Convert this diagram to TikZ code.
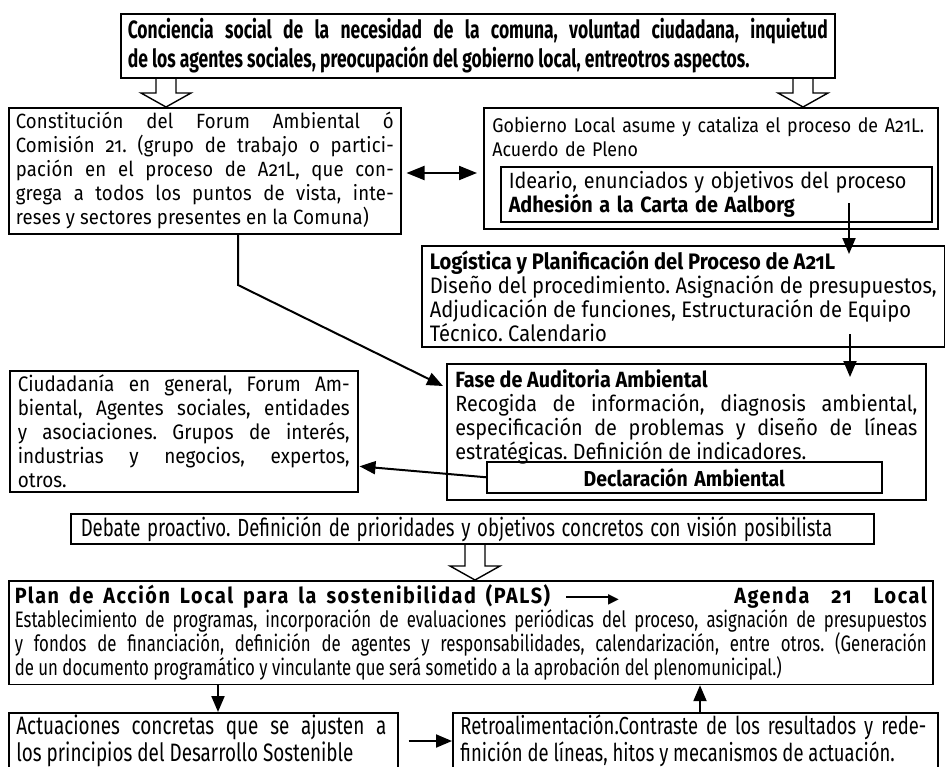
\documentclass[tikz,border=0pt]{standalone}
\usepackage{fontspec}
\setmainfont[Numbers=OldStyle,FakeStretch=0.9]{Fira Sans}
\newfontfamily\estrecha[Numbers=OldStyle,FakeStretch=0.75]{Fira Sans}
\newfontfamily\angosta[Numbers=OldStyle,FakeStretch=0.7]{Fira Sans}
\newfontfamily\simbolos{DejaVu Sans}
\usetikzlibrary{arrows.meta,calc}
\frenchspacing

\tikzset{
  caja/.style={draw, line width=0.75pt, anchor=north west, inner xsep=4pt, inner ysep=2pt, align=justify},
  marco/.style={draw, line width=0.75pt, anchor=north west, inner sep=0pt},
  texto/.style={anchor=north west, inner sep=0pt, align=justify},
  flecha/.style={line width=1pt, -{Triangle[length=8pt,width=6.5pt]}},
  doble/.style={line width=1pt, {Triangle[length=9pt,width=7pt]}-{Triangle[length=9pt,width=7pt]}},
  hueca/.style={line width=0.7pt, to path={
    ($(\tikztostart)+(-10,0)$) -- ($(\tikztotarget)+(-10,-14)$) -- ($(\tikztotarget)+(-25,-14)$)
    -- (\tikztotarget) -- ($(\tikztotarget)+(25,-14)$) -- ($(\tikztotarget)+(10,-14)$)
    -- ($(\tikztostart)+(10,0)$)}}
}
\newcommand{\letra}[2]{\fontsize{#1}{#2}\selectfont}
\newcommand{\titulo}{\rmfamily\bfseries\letra{11}{11}\addfontfeatures{LetterSpace=7}\spaceskip=5pt plus 1pt}
\newcommand{\flechita}{\rule[0.5ex]{22pt}{0.8pt}\kern-1pt\raisebox{0.05ex}{\simbolos\fontsize{7}{7}\selectfont ▶}}

\begin{document}
\begin{tikzpicture}[x=0.5pt,y=-0.5pt]
\useasboundingbox (0,0) rectangle (945,766);
\clip (0,0) rectangle (945,766);

% primera fila
\node[caja, inner xsep=3.5pt, text width=350pt, minimum height=32pt] (T) at (120,13)
  {\angosta\bfseries\letra{12.5}{12.5}Conciencia social de la necesidad de la comuna, voluntad ciudadana, inquietud\linebreak
   de los agentes sociales, preocupación del gobierno local, entreotros aspectos.};

\node[caja, inner xsep=3.5pt, text width=189pt, minimum height=63pt] (C) at (8,107)
  {\letra{10.3}{11.6}\addfontfeatures{LetterSpace=1}Constitución del Forum Ambiental ó\linebreak
   Comisión 21. (grupo de trabajo o partici-\linebreak
   pación en el proceso de A21L, que con-\linebreak
   grega a todos los puntos de vista, inte-\linebreak
   reses y sectores presentes en la Comuna)};

\node[marco, minimum width=227pt, minimum height=60.5pt] (G) at (483,107) {};
\node[texto, text width=220pt, align=left] (Gt) at (492,117)
  {\letra{9.9}{10.5}Gobierno Local asume y cataliza el proceso de A21L.\\Acuerdo de Pleno};
\node[caja, text width=207.5pt, minimum height=27.5pt, align=left] (I) at (500,166)
  {\letra{11}{11}Ideario, enunciados y objetivos del proceso\\\textbf{Adhesión a la Carta de Aalborg}};

% planificacion y auditoria
\node[caja, text width=253.5pt, minimum height=50.5pt] (L) at (421,245)
  {\letra{11.2}{11}\textbf{Logística y Planificación del Proceso de A21L}\\
   Diseño del procedimiento. Asignación de presupuestos,\linebreak
   Adjudicación de funciones, Estructuración de Equipo\\
   Técnico. Calendario};

\node[marco, minimum width=239.5pt, minimum height=68pt] (F) at (446,363) {};
\node[texto, text width=231pt] (Ft) at (455,369)
  {\letra{11}{11}\textbf{Fase de Auditoria Ambiental}\\
   Recogida de información, diagnosis ambiental,\linebreak
   especificación de problemas y diseño de líneas\linebreak
   estratégicas. Definición de indicadores.};
\node[caja, text width=189.5pt, minimum height=15.5pt, align=center] (D) at (486,461)
  {\letra{10.8}{11}\bfseries Declaración Ambiental};

\node[caja, text width=166pt, minimum height=59pt] (Ci) at (9,370)
  {\letra{10.5}{11.2}Ciudadanía en general, Forum Am-\linebreak
   biental, Agentes sociales, entidades\linebreak
   y asociaciones. Grupos de interés,\linebreak
   industrias y negocios, expertos,\linebreak
   otros.};

% plan de accion
\node[caja, inner xsep=5pt, inner ysep=1pt, text width=391.5pt, minimum height=15pt, align=left] (Db) at (70,513)
  {\estrecha\letra{12.4}{12}Debate proactivo. Definición de prioridades y objetivos concretos con visión posibilista};

\node[caja, inner xsep=3pt, text width=456pt, minimum height=50pt] (P) at (8,580)
  {\estrecha\letra{11.2}{11}%
   {\titulo Plan de Acción Local para la sostenibilidad (PALS)}\hspace{8pt}\flechita\hfill
   {\titulo Agenda\hspace{11pt}21\hspace{11pt}Local}\\
   Establecimiento de programas, incorporación de evaluaciones periódicas del proceso, asignación de presupuestos\linebreak
   y fondos de financiación, definición de agentes y responsabilidades, calendarización, entre otros. (Generación\linebreak
   de un documento programático y vinculante que será sometido a la aprobación del plenomunicipal.)};

\node[marco, minimum width=194.5pt, minimum height=40pt] (A) at (8,712) {};
\node[texto, text width=185pt] (At) at (16,714)
  {\estrecha\letra{12.6}{10.6}Actuaciones concretas que se ajusten a\linebreak
   los principios del Desarrollo Sostenible};
\node[marco, minimum width=242.5pt, minimum height=40pt] (R) at (452,712) {};
\node[texto, text width=233pt] (Rt) at (460,714)
  {\estrecha\letra{12.3}{10.6}Retroalimentación.Contraste de los resultados y rede-\linebreak
   finición de líneas, hitos y mecanismos de actuación.};

% flechas huecas
\coordinate (h1) at (166,0);
\coordinate (h2) at (803,0);
\coordinate (h3) at (475,0);
\draw[hueca] (h1 |- T.south) to (h1 |- C.north);
\draw[hueca] (h2 |- T.south) to (h2 |- G.north);
\draw[hueca] (h3 |- Db.south) to (h3 |- P.north);

% flechas
\coordinate (d1) at ($(C.east |- 0,173)+(5,0)$);
\draw[doble] (d1) -- ($(d1 -| G.west)+(-6,0)$);
\coordinate (a1) at (849,203);
\draw[flecha] (a1) -- ($(a1 |- L.north)+(0,9)$);
\coordinate (a2) at (850,334);
\draw[flecha] (a2) -- ($(a2 |- F.north)+(0,14)$);
\coordinate (q1) at (238,285);
\draw[flecha] (q1 |- C.south) -- (q1) -- ($(F.north west)+(-3,23)$);
\draw[flecha] (D.west) -- ($(Ci.east)+(1,35)$);
\coordinate (b1) at (218,0);
\coordinate (b2) at (700,0);
\coordinate (c1) at (A.east |- 0,741);
\draw[flecha] (b1 |- P.south) -- (b1 |- A.north);
\draw[flecha] ($(c1)+(10,0)$) -- (c1 -| R.west);
\draw[flecha] (b2 |- R.north) -- (b2 |- P.south);
\end{tikzpicture}
\end{document}
